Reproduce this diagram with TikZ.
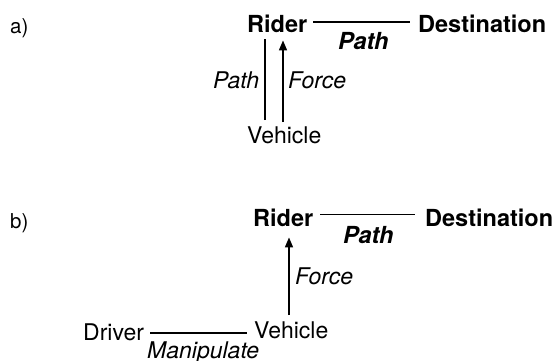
\documentclass[tikz,border=0pt]{standalone}
\usepackage{fontspec}
\setmainfont{TeX Gyre Heros}
\usetikzlibrary{arrows.meta}
\tikzset{
  lbl/.style={inner sep=0pt, anchor=base west, font=\fontsize{23}{27}\selectfont},
  tag/.style={inner sep=0pt, anchor=base west, font=\fontsize{20.5}{24}\selectfont},
  hub/.style={lbl, font=\fontsize{23.5}{27}\selectfont\bfseries},
  rel/.style={lbl, font=\fontsize{23}{27}\selectfont\itshape},
  relb/.style={lbl, font=\fontsize{23.5}{27}\selectfont\bfseries\itshape},
  link/.style={line width=1.6pt},
  push/.style={line width=1.6pt, -{Triangle[length=10pt,width=8pt]}}
}
\begin{document}
\begin{tikzpicture}[x=1pt,y=-1pt]
\useasboundingbox (0,0) rectangle (555,360);

% ---- part a ----
\node[tag] (la) at (10,33) {a)};
\node[hub] (riderA) at (247,32) {Rider};
\node[hub] (destA) at (418,32) {Destination};
\node[relb] (pathA) at (338,49) {Path};
\node[rel] (pathA2) at (213,88) {Path};
\node[rel] (forceA) at (288,88) {Force};
\node[lbl] (vehA) at (247,143) {Vehicle};

\draw[link, shorten <=6pt, shorten >=8pt]
  ([yshift=1.5pt]riderA.east) -- ([yshift=1.5pt]destA.west |- riderA.east);
\draw[link, shorten <=6pt, shorten >=7pt]
  ([xshift=18pt]vehA.north west) -- ([xshift=18pt]vehA.north west |- riderA.south);
\draw[push, shorten <=4pt, shorten >=8pt]
  ([xshift=36pt]vehA.north west) -- ([xshift=36pt]vehA.north west |- riderA.south);

% ---- part b ----
\node[tag] (lb) at (10,228) {b)};
\node[hub] (riderB) at (253,226) {Rider};
\node[hub] (destB) at (425,226) {Destination};
\node[relb] (pathB) at (343,243) {Path};
\node[rel] (forceB) at (295,284) {Force};
\node[lbl] (vehB) at (254,338) {Vehicle};
\node[lbl] (driver) at (83,340) {Driver};
\node[rel] (manip) at (147,358) {Manipulate};

\draw[link, shorten <=7pt, shorten >=10pt]
  ([yshift=3pt]riderB.east) -- ([yshift=3pt]destB.west |- riderB.east);
\draw[push, shorten <=6pt, shorten >=11pt]
  ([xshift=35pt]vehB.north west) -- ([xshift=35pt]vehB.north west |- riderB.south);
\draw[link, shorten <=6pt, shorten >=7pt]
  ([yshift=-1pt]driver.east) -- ([yshift=-1pt]vehB.west |- driver.east);
\end{tikzpicture}
\end{document}
